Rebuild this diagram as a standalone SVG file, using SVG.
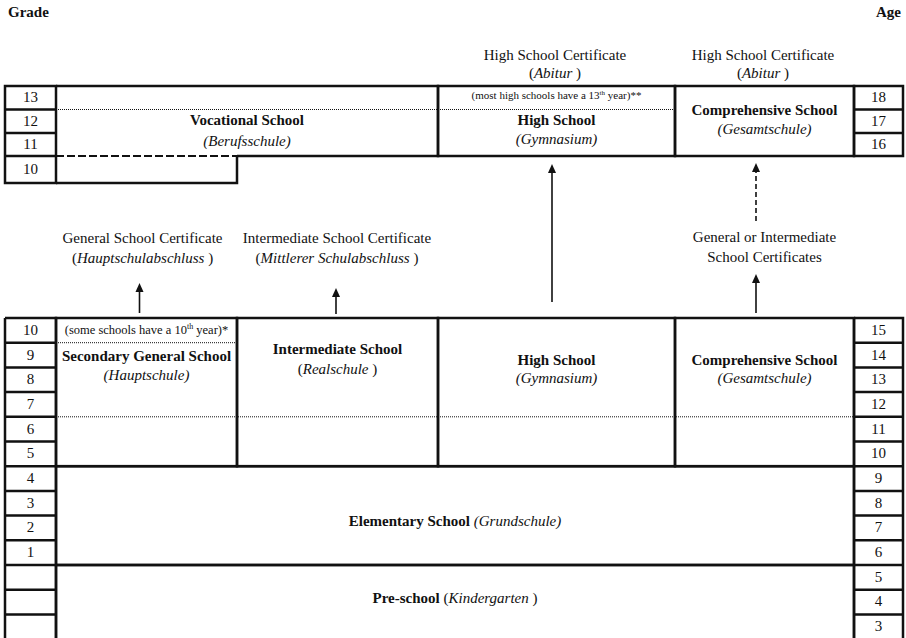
<svg xmlns="http://www.w3.org/2000/svg" width="906" height="638" viewBox="0 0 906 638">
<style>
text{font-family:"Liberation Serif","Times New Roman",serif;font-size:15px;fill:#111;text-anchor:middle}
.b{font-weight:bold}
.i{font-style:italic}
.box{fill:none;stroke:#111;stroke-width:2.5}
.ln{fill:none;stroke:#111;stroke-width:2.5}
.dot{fill:none;stroke:#111;stroke-width:1;stroke-dasharray:1 1}
.dash{fill:none;stroke:#111;stroke-width:2;stroke-dasharray:8 3}
.arr{fill:none;stroke:#111;stroke-width:1.6;marker-end:url(#ah)}
.arrd{fill:none;stroke:#111;stroke-width:1.6;stroke-dasharray:5 3;marker-end:url(#ah)}
.sm{font-size:11px}
.sm2{font-size:12.5px}
</style>
<defs>
<marker id="ah" markerUnits="userSpaceOnUse" markerWidth="8" markerHeight="11" refX="4" refY="0" orient="auto-start-reverse" viewBox="0 0 8 11" overflow="visible">
<path d="M0,0 L4,-5 L8,0 z" transform="translate(0,5) rotate(0)" fill="#111"/>
</marker>
</defs>

<text class="b" x="8" y="17" style="text-anchor:start">Grade</text>
<text class="b" x="901" y="17" style="text-anchor:end">Age</text>

<g id="grade-upper">
<rect class="box" x="5" y="86" width="51" height="97"/>
<path class="ln" d="M5,109.5H56M5,133H56M5,156H56"/>
<text x="30.5" y="102">13</text>
<text x="30.5" y="126">12</text>
<text x="30.5" y="149">11</text>
<text x="30.5" y="174">10</text>
</g>

<g id="vocational">
<path class="ln" d="M56,86H438V156H237"/>
<path class="dash" d="M56,156H237"/>
<path class="ln" d="M237,156V183H56"/>
<path class="dot" d="M56,109.5H438"/>
<text class="b" x="247" y="125">Vocational School</text>
<text class="i" x="247" y="146">(Berufsschule)</text>
</g>

<g id="highschool-upper">
<rect class="box" x="438" y="86" width="237" height="70"/>
<path class="dot" d="M438,109.5H675"/>
<text class="sm" x="556.5" y="99">(most high schools have a 13<tspan font-size="7" dy="-4">th</tspan><tspan dy="4"> year)**</tspan></text>
<text class="b" x="556.5" y="125">High School</text>
<text class="i" x="556.5" y="144">(Gymnasium)</text>
</g>

<g id="comprehensive-upper">
<rect class="box" x="675" y="86" width="179" height="70"/>
<text class="b" x="764.5" y="115">Comprehensive School</text>
<text class="i" x="764.5" y="134">(Gesamtschule)</text>
</g>

<g id="age-upper">
<rect class="box" x="854" y="86" width="49" height="70"/>
<path class="ln" d="M854,109.5H903M854,133H903"/>
<text x="878.5" y="102">18</text>
<text x="878.5" y="126">17</text>
<text x="878.5" y="149">16</text>
</g>

<g id="cert-abitur-1">
<text x="555" y="60">High School Certificate</text>
<text x="555" y="78">(<tspan class="i">Abitur</tspan> )</text>
</g>
<g id="cert-abitur-2">
<text x="763" y="60">High School Certificate</text>
<text x="763" y="78">(<tspan class="i">Abitur</tspan> )</text>
</g>
<g id="cert-general">
<text x="142.5" y="243">General School Certificate</text>
<text x="142.5" y="263">(<tspan class="i">Hauptschulabschluss</tspan> )</text>
</g>
<g id="cert-intermediate">
<text x="337" y="243">Intermediate School Certificate</text>
<text x="337" y="263">(<tspan class="i">Mittlerer Schulabschluss</tspan> )</text>
</g>
<g id="cert-general-or-intermediate">
<text x="764.5" y="242">General or Intermediate</text>
<text x="764.5" y="262">School Certificates</text>
</g>

<g id="grade-lower">
<path class="ln" d="M5,318H56V645M5,318V645"/>
<path class="ln" d="M5,342.7H56M5,367.4H56M5,392.1H56M5,416.8H56M5,441.5H56M5,466.2H56M5,490.9H56M5,515.6H56M5,540.3H56M5,565H56M5,589.7H56M5,614.4H56"/>
<text x="30.5" y="335">10</text>
<text x="30.5" y="359.5">9</text>
<text x="30.5" y="384">8</text>
<text x="30.5" y="409">7</text>
<text x="30.5" y="433.5">6</text>
<text x="30.5" y="458">5</text>
<text x="30.5" y="483">4</text>
<text x="30.5" y="507.5">3</text>
<text x="30.5" y="532">2</text>
<text x="30.5" y="557">1</text>
</g>

<g id="secondary-general">
<rect class="box" x="56" y="318" width="181" height="148.2"/>
<path class="dot" d="M56,342.7H237"/>
<text class="sm2" x="146.5" y="334">(some schools have a 10<tspan font-size="8" dy="-5">th</tspan><tspan dy="5"> year)*</tspan></text>
<text class="b" x="146.5" y="361">Secondary General School</text>
<text class="i" x="146.5" y="380">(Hauptschule)</text>
</g>

<g id="intermediate">
<rect class="box" x="237" y="318" width="201" height="148.2"/>
<text class="b" x="337.5" y="354">Intermediate School</text>
<text x="337.5" y="374">(<tspan class="i">Realschule</tspan> )</text>
</g>

<g id="highschool-lower">
<rect class="box" x="438" y="318" width="237" height="148.2"/>
<text class="b" x="556.5" y="365">High School</text>
<text class="i" x="556.5" y="383">(Gymnasium)</text>
</g>

<g id="comprehensive-lower">
<rect class="box" x="675" y="318" width="179" height="148.2"/>
<text class="b" x="764.5" y="365">Comprehensive School</text>
<text class="i" x="764.5" y="383">(Gesamtschule)</text>
</g>
<path class="dot" d="M56,416.8H854"/>

<g id="elementary">
<rect class="box" x="56" y="466.2" width="798" height="98.8"/>
<text x="455" y="526"><tspan class="b">Elementary School</tspan> <tspan class="i">(Grundschule)</tspan></text>
</g>

<g id="preschool">
<path class="ln" d="M56,565H854M56,565V645M854,565V645"/>
<text x="455" y="603"><tspan class="b">Pre-school</tspan> (<tspan class="i">Kindergarten</tspan> )</text>
</g>

<g id="age-lower">
<path class="ln" d="M854,318H903V645M854,318V645"/>
<path class="ln" d="M854,342.7H903M854,367.4H903M854,392.1H903M854,416.8H903M854,441.5H903M854,466.2H903M854,490.9H903M854,515.6H903M854,540.3H903M854,565H903M854,589.7H903M854,614.4H903"/>
<text x="878.5" y="335">15</text>
<text x="878.5" y="359.5">14</text>
<text x="878.5" y="384">13</text>
<text x="878.5" y="409">12</text>
<text x="878.5" y="433.5">11</text>
<text x="878.5" y="458">10</text>
<text x="878.5" y="483">9</text>
<text x="878.5" y="507.5">8</text>
<text x="878.5" y="532">7</text>
<text x="878.5" y="557">6</text>
<text x="878.5" y="581.5">5</text>
<text x="878.5" y="606">4</text>
<text x="878.5" y="631">3</text>
</g>

<g id="connectors">
<path d="M139.5,313V288" class="arr" style="marker-end:none"/>
<path d="M336,314V293" class="arr" style="marker-end:none"/>
<path d="M552,302V169" class="arr" style="marker-end:none"/>
<path d="M756,221V168" class="arrd" style="marker-end:none"/>
<path d="M756,313V279" class="arr" style="marker-end:none"/>
<path d="M135.5,292L139.5,283L143.5,292z" fill="#111"/>
<path d="M332,297L336,288L340,297z" fill="#111"/>
<path d="M548,173L552,164L556,173z" fill="#111"/>
<path d="M752,172L756,163L760,172z" fill="#111"/>
<path d="M752,283L756,274L760,283z" fill="#111"/>
</g>
</svg>
